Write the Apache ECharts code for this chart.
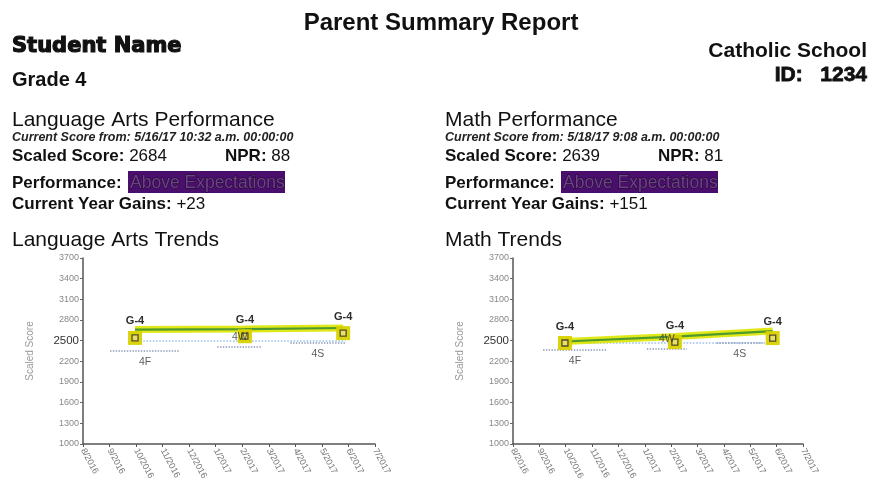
<!DOCTYPE html>
<html>
<head>
<meta charset="utf-8">
<script src="https://cdn.jsdelivr.net/npm/echarts@6/dist/echarts.min.js"></script>
<style>
html,body{margin:0;padding:0;background:#fff;}
#c{width:871px;height:495px;}
</style>
</head>
<body>
<div id="c"></div>
<script>
// ---------- data ----------
const monthLabels = ['8/2016','9/2016','10/2016','11/2016','12/2016','1/2017','2/2017','3/2017','4/2017','5/2017','6/2017','7/2017'];
const yMin = 1000, yMax = 3700, yStep = 300;

// Language Arts (x = months since 8/2016)
const laTestMonths = [1.96, 6.1, 9.8];
const laScores = [2661, 2668, 2684];
const laMarkerScores = [2540, 2565, 2610];
const laGradeLabels = ['G-4', 'G-4', 'G-4'];
const laRefMonths = [2.15, 9.89];
const laRefScores = [2495, 2495];
const laNormLabels = ['4F', '4W', '4S'];
const laNormStart = [1.02, 5.06, 7.81];
const laNormEnd = [3.66, 6.75, 9.89];
const laNormScores = [2350, 2408, 2466];

// Math
const mathTestMonths = [1.97, 6.14, 9.85];
const mathScores = [2488, 2560, 2639];
const mathMarkerScores = [2466, 2480, 2538];
const mathGradeLabels = ['G-4', 'G-4', 'G-4'];
const mathRefMonths = [1.97, 9.85];
const mathRefScores = [2466, 2466];
const mathNormLabels = ['4F', '4W', '4S'];
const mathNormStart = [1.14, 5.08, 7.73];
const mathNormEnd = [3.56, 6.59, 9.47];
const mathNormScores = [2364, 2380, 2466];

const normLabelPos = ['bottom', 'top', 'bottom'];

// ---------- build ----------
const FF = '"Liberation Sans", Arial, sans-serif';

function txt(x, y, text, font, fill, align, rich, extra) {
  const st = {text: text, font: font, fill: fill || '#111', align: align || 'left', textAlign: align || 'left', verticalAlign: 'middle', textVerticalAlign: 'middle'};
  if (rich) st.rich = rich;
  if (extra) Object.assign(st, extra);
  return {type: 'text', x: x, y: y, style: st, z: 10};
}

const boldRich = {
  b: {fontFamily: FF, fontWeight: 'bold', fontSize: 17, fill: '#111', color: '#111'},
  r: {fontFamily: FF, fontWeight: 'normal', fontSize: 17, fill: '#111', color: '#111'}
};

function block(x0, title, stamp, score, npr, gains, trends) {
  return [
    txt(x0, 120, title, '21px ' + FF),
    txt(x0, 137.5, 'Current Score from: ' + stamp, 'italic bold 12.5px ' + FF, '#222'),
    txt(x0, 156.5, '{b|Scaled Score:}{r| ' + score + '}', '17px ' + FF, '#111', 'left', boldRich),
    txt(x0 + 213, 156.5, '{b|NPR:}{r| ' + npr + '}', '17px ' + FF, '#111', 'left', boldRich),
    txt(x0, 183, 'Performance:', 'bold 17px ' + FF),
    {type: 'rect', shape: {x: x0 + 116, y: 171, width: 157, height: 22}, style: {fill: '#4a0e6c'}, z: 9},
    txt(x0 + 118, 183, 'Above Expectations', '17.5px ' + FF, '#6c4486', 'left', null,
      {stroke: '#1c0826', lineWidth: 0.9}),
    txt(x0, 204, '{b|Current Year Gains:}{r| ' + gains + '}', '17px ' + FF, '#111', 'left', boldRich),
    txt(x0, 240, trends, '21px ' + FF)
  ];
}

const graphics = [
  txt(441, 23, 'Parent Summary Report', 'bold 24px ' + FF, '#111', 'center'),
  txt(12, 47, 'Student Name', 'bold 21px "DejaVu Sans", sans-serif', '#111', 'left', null,
    {stroke: '#111', lineWidth: 1.2, strokeFirst: true}),
  txt(12, 80, 'Grade 4', 'bold 20px ' + FF, '#111'),
  txt(867, 51, 'Catholic School', 'bold 21px ' + FF, '#111', 'right'),
  txt(867, 75, 'ID:   1234', 'bold 21px ' + FF, '#111', 'right', null, {stroke: '#111', lineWidth: 0.8, strokeFirst: true})
].concat(
  block(12, 'Language Arts Performance', '5/16/17 10:32 a.m. 00:00:00', 2684, 88, '+23', 'Language Arts Trends'),
  block(445, 'Math Performance', '5/18/17 9:08 a.m. 00:00:00', 2639, 81, '+151', 'Math Trends')
);

function makeX(k) {
  return {
    type: 'value', gridIndex: k, min: 0, max: monthLabels.length - 1, interval: 1,
    splitLine: {show: false},
    axisLine: {lineStyle: {color: '#555', width: 1.5}},
    axisTick: {show: true, length: 3, lineStyle: {color: '#555'}},
    axisLabel: {
      rotate: -62, fontSize: 9, color: '#777', fontFamily: FF, margin: 5,
      formatter: function (v) { return monthLabels[Math.round(v)] || ''; }
    }
  };
}
function makeY(k) {
  return {
    type: 'value', gridIndex: k, min: yMin, max: yMax, interval: yStep,
    name: 'Scaled Score', nameLocation: 'middle', nameGap: 48,
    nameTextStyle: {fontSize: 10, color: '#999', fontFamily: FF},
    splitLine: {show: false},
    axisLine: {show: true, lineStyle: {color: '#555', width: 1.5}},
    axisTick: {show: true, length: 3, lineStyle: {color: '#666'}},
    axisLabel: {
      margin: 4, fontFamily: FF,
      formatter: function (v) { return v === 2500 ? '{big|' + v + '}' : '{s|' + v + '}'; },
      rich: {
        big: {fontSize: 11.5, color: '#333', fontFamily: FF},
        s: {fontSize: 9, color: '#888', fontFamily: FF}
      }
    }
  };
}

function chartSeries(k, months, scores, markers, gradeLabels, refM, refS, nStart, nEnd, nScore, nLabels) {
  const s = [];
  s.push({
    type: 'line', xAxisIndex: k, yAxisIndex: k, symbol: 'none', silent: true, z: 2,
    data: refM.map((m, i) => [m, refS[i]]),
    lineStyle: {color: '#9cc2ea', width: 1.6, type: 'dotted'}
  });
  nLabels.forEach((lab, i) => {
    s.push({
      type: 'line', xAxisIndex: k, yAxisIndex: k, symbol: 'none', silent: true, z: 2,
      data: [[nStart[i], nScore[i]], [nEnd[i], nScore[i]]],
      lineStyle: {color: '#8a98b8', width: 1.4, type: 'dotted'}
    });
  });
  s.push({
    type: 'scatter', xAxisIndex: k, yAxisIndex: k, symbolSize: 1, silent: true, z: 7,
    itemStyle: {color: 'rgba(0,0,0,0)'},
    data: nLabels.map((lab, i) => ({
      value: [(nStart[i] + nEnd[i]) / 2, nScore[i]], name: lab,
      label: {show: true, position: normLabelPos[i], distance: normLabelPos[i] === 'top' ? 4 : 5,
        formatter: '{b}', fontSize: 10.5, color: '#333', fontFamily: FF}
    }))
  });
  s.push({
    type: 'line', xAxisIndex: k, yAxisIndex: k, symbol: 'none', silent: true, z: 3,
    data: months.map((m, i) => [m, scores[i]]),
    lineStyle: {color: '#dde500', width: 7, opacity: 0.9}
  });
  s.push({
    type: 'line', xAxisIndex: k, yAxisIndex: k, symbol: 'none', silent: true, z: 4,
    data: months.map((m, i) => [m, scores[i]]),
    lineStyle: {color: '#4e9a2c', width: 2.2}
  });
  s.push({
    type: 'scatter', xAxisIndex: k, yAxisIndex: k, symbol: 'rect', symbolSize: 14, silent: true, z: 5,
    itemStyle: {color: '#d9d100', opacity: 0.95},
    data: months.map((m, i) => ({value: [m, markers[i]], name: gradeLabels[i]})),
    label: {show: true, position: 'top', distance: 4, formatter: '{b}', fontSize: 11,
      fontWeight: 'bold', color: '#222', fontFamily: FF}
  });
  s.push({
    type: 'scatter', xAxisIndex: k, yAxisIndex: k, symbol: 'rect', symbolSize: 6, silent: true, z: 6,
    itemStyle: {color: '#ece27a', borderColor: '#2a2a2a', borderWidth: 1.3},
    data: months.map((m, i) => [m, markers[i]])
  });
  return s;
}

const chart = echarts.init(document.getElementById('c'), null, {renderer: 'canvas'});
chart.setOption({
  animation: false,
  backgroundColor: '#ffffff',
  textStyle: {fontFamily: FF},
  grid: [
    {left: 83, top: 258, width: 292, height: 186},
    {left: 513, top: 258, width: 290, height: 186}
  ],
  xAxis: [makeX(0), makeX(1)],
  yAxis: [makeY(0), makeY(1)],
  graphic: {elements: graphics},
  series: chartSeries(0, laTestMonths, laScores, laMarkerScores, laGradeLabels, laRefMonths, laRefScores,
      laNormStart, laNormEnd, laNormScores, laNormLabels)
    .concat(chartSeries(1, mathTestMonths, mathScores, mathMarkerScores, mathGradeLabels, mathRefMonths, mathRefScores,
      mathNormStart, mathNormEnd, mathNormScores, mathNormLabels))
});
</script>
</body>
</html>
